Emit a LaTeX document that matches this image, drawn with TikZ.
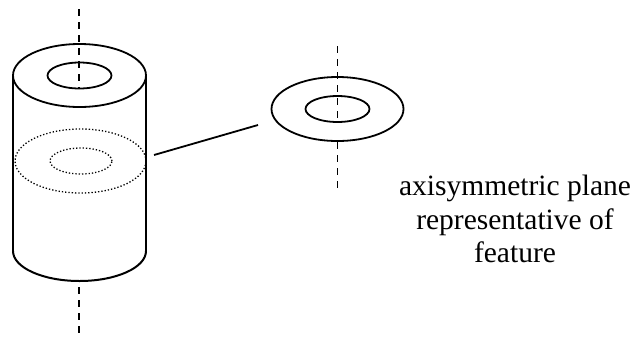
\documentclass[tikz,border=0pt]{standalone}
\usepackage{fontspec}
\setmainfont{Liberation Serif}
\usetikzlibrary{calc}
\usetikzlibrary{shapes.geometric}

\begin{document}
\begin{tikzpicture}[
  x = 1pt, y = -1pt,
  ring/.style 2 args={
      ellipse, draw, inner sep = 0pt, outer sep = 0pt, line width = 1.8pt,
      minimum width = #1pt, minimum height = #2pt
  },
  dotted ring/.style 2 args={
      ring = {#1}{#2}, line width = 1.3pt, dash pattern = on 1.3pt off 2pt
  },
  axis/.style={line width = 1.4pt, dash pattern = on 7pt off 6pt},
  wall/.style={line width = 1.5pt, line cap = round}
]
  \useasboundingbox (0, 0) rectangle (634, 338);

  % cylinder
  \node[ring = {133}{63}] (top outer) at (79.5, 75.5) {};
  \node[ring = {64}{26}] (top inner) at (79.5, 75.5) {};
  \draw[wall, line width = 2.2pt] (top outer.west) -- (13, 251) coordinate (bottom left);
  \draw[wall, line width = 1.4pt] (top outer.east) -- (146, 251) coordinate (bottom right);
  \draw[wall, line width = 2pt] (bottom left) arc[start angle = 180, end angle = 360, x radius = 66.5, y radius = -30];

  % plane inside the cylinder
  \node[dotted ring = {131}{64}] (plane outer) at (80.5, 161) {};
  \node[dotted ring = {62}{26}] (plane inner) at (81, 161) {};

  % separate plane
  \node[ring = {132}{64}] (disc outer) at (337.5, 109) {};
  \node[ring = {64}{26}] (disc inner) at (337.5, 109) {};

  % axes
  \coordinate (axis a) at (79, 9);
  \coordinate (axis b) at (79, 88);
  \coordinate (axis c) at (79, 287);
  \coordinate (axis d) at (79, 338);
  \coordinate (axis e) at (337.5, 46);
  \coordinate (axis f) at (337.5, 122);
  \coordinate (axis g) at (337.5, 142);
  \coordinate (axis h) at (337.5, 192);
  \foreach \a/\b in {a/b, c/d, e/f, g/h}
  \draw[axis] (axis \a) -- (axis \b);

  % link between the planes
  \coordinate (link a) at (154, 155);
  \coordinate (link b) at (258, 125);
  \draw[line width = 1.8pt] (link a) -- (link b);

  \node[align = center, font = \fontsize{29.5}{33.5}\selectfont, inner sep = 0pt] (caption) at (515, 219)
  {axisymmetric plane\\representative of\\feature};
\end{tikzpicture}
\end{document}
